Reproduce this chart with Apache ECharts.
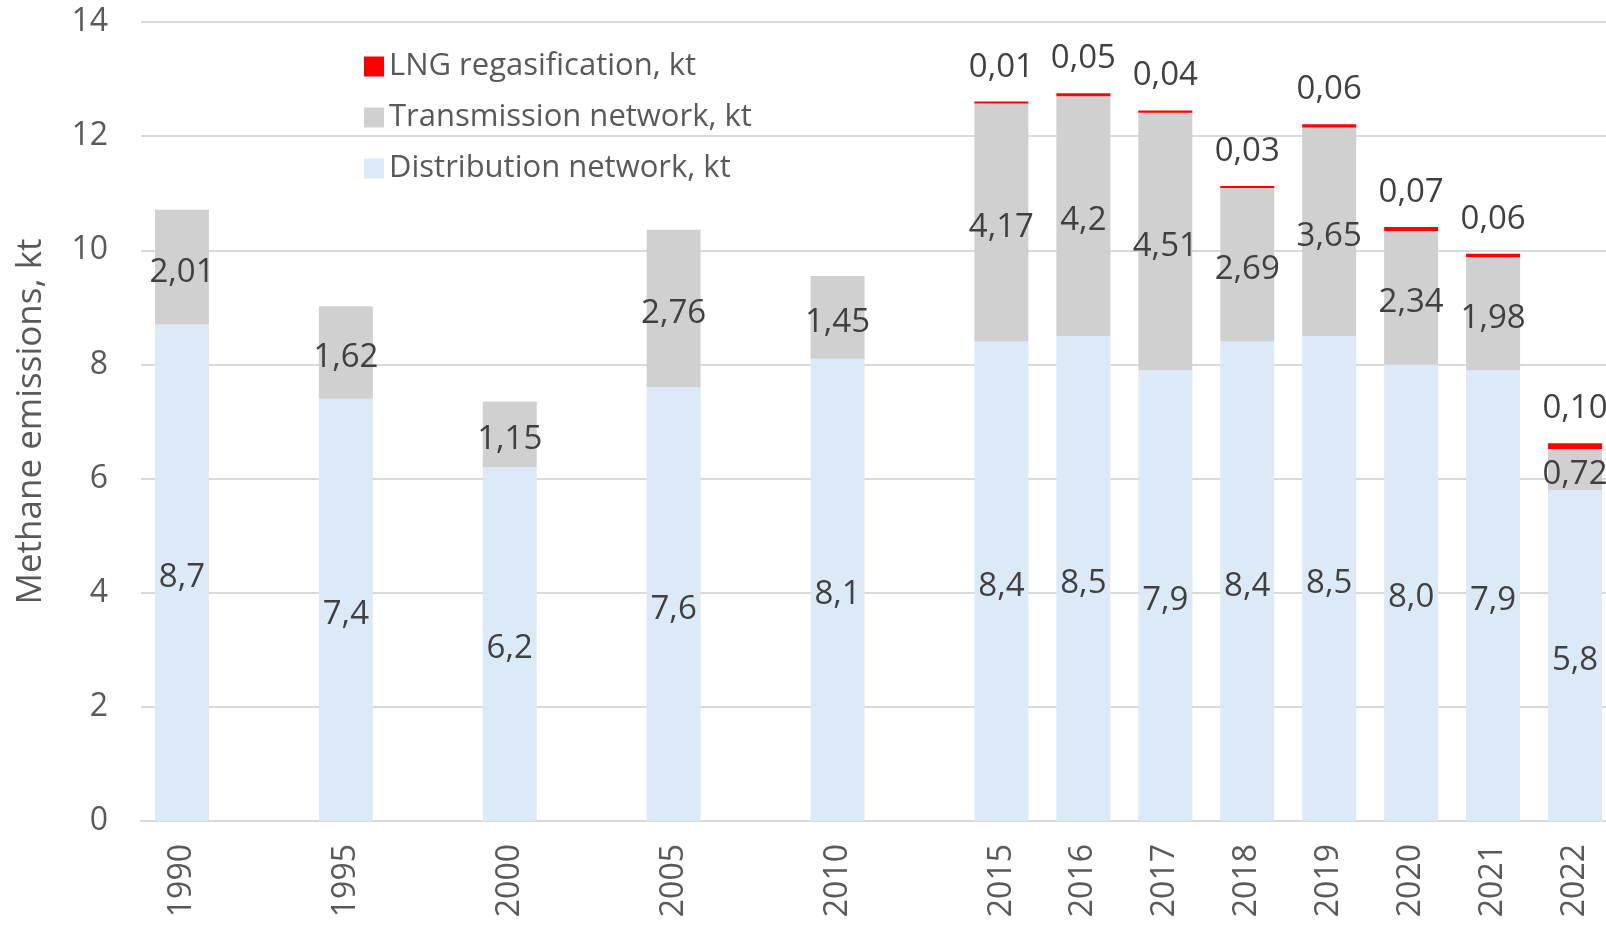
<!DOCTYPE html>
<html>
<head>
<meta charset="utf-8">
<title>Methane emissions</title>
<script src="https://cdn.jsdelivr.net/npm/echarts@6/dist/echarts.min.js"></script>
<style>
	html, body { margin: 0; padding: 0; background: #fff; overflow: hidden; }
	/* chart is a bit wider than the window: the last bar is cut at the right edge */
	#chart { width: 1616px; height: 926px; }
</style>
</head>
<body>
<div id="chart"></div>
<script>
// categories (blank slots keep the gaps between 5-year steps)
const years = ['1990', '', '1995', '', '2000', '', '2005', '', '2010', '', '2015', '2016', '2017', '2018', '2019', '2020', '2021', '2022'];
// Distribution network, kt
const distribution = [8.7, null, 7.4, null, 6.2, null, 7.6, null, 8.1, null, 8.4, 8.5, 7.9, 8.4, 8.5, 8.0, 7.9, 5.8];
// Transmission network, kt
const transmission = [2.01, null, 1.62, null, 1.15, null, 2.76, null, 1.45, null, 4.17, 4.2, 4.51, 2.69, 3.65, 2.34, 1.98, 0.72];
// LNG regasification, kt
const lng = [null, null, null, null, null, null, null, null, null, null, 0.01, 0.05, 0.04, 0.03, 0.06, 0.07, 0.06, 0.10];

const FONT = 'Open Sans';
const comma = s => s.replace('.', ',');

let myChart = echarts.init(document.getElementById('chart'));
myChart.setOption({
	animation: false,
	textStyle: { fontFamily: FONT },
	grid: {
		left: 141,
		top: 22,
		right: 0,
		height: 799
	},
	legend: {
		orient: 'vertical',
		left: 359,
		top: 46,
		itemWidth: 20,
		itemHeight: 20,
		itemGap: 20,
		icon: 'rect',
		data: ['LNG regasification, kt', 'Transmission network, kt', 'Distribution network, kt'],
		textStyle: { fontFamily: FONT, fontSize: 31, color: '#595959' }
	},
	xAxis: {
		type: 'category',
		data: years,
		axisTick: { show: false },
		axisLine: { lineStyle: { color: '#d9d9d9', width: 2 } },
		axisLabel: {
			rotate: 90,
			margin: 23,
			interval: 0,
			fontFamily: FONT,
			fontSize: 32,
			color: '#595959'
		}
	},
	yAxis: {
		type: 'value',
		min: 0,
		max: 14,
		interval: 2,
		name: 'Methane emissions, kt',
		nameLocation: 'middle',
		nameGap: 92,
		nameTextStyle: { fontFamily: FONT, fontSize: 35, color: '#595959' },
		axisLabel: { margin: 33, fontFamily: FONT, fontSize: 32, color: '#595959' },
		splitLine: { lineStyle: { color: '#d9d9d9', width: 2 } }
	},
	series: [
		{
			name: 'Distribution network, kt',
			type: 'bar',
			stack: 'total',
			barWidth: 54,
			data: distribution,
			itemStyle: { color: '#dce9f6' },
			label: {
				show: true,
				position: 'inside',
				offset: [0, 5],
				fontFamily: FONT,
				fontSize: 33,
				color: '#404040',
				formatter: p => comma(p.value.toFixed(1))
			}
		},
		{
			name: 'Transmission network, kt',
			type: 'bar',
			stack: 'total',
			barWidth: 54,
			data: transmission,
			itemStyle: { color: '#d0d0d0' },
			label: {
				show: true,
				position: 'inside',
				offset: [0, 5],
				fontFamily: FONT,
				fontSize: 33,
				color: '#404040',
				formatter: p => comma(String(p.value))
			}
		},
		{
			name: 'LNG regasification, kt',
			type: 'bar',
			stack: 'total',
			barWidth: 54,
			barMinHeight: 2,
			data: lng,
			itemStyle: { color: '#ff0000' },
			label: {
				show: true,
				position: 'top',
				distance: 18,
				fontFamily: FONT,
				fontSize: 33,
				color: '#404040',
				formatter: p => comma(p.value.toFixed(2))
			}
		}
	]
});
</script>
</body>
</html>
